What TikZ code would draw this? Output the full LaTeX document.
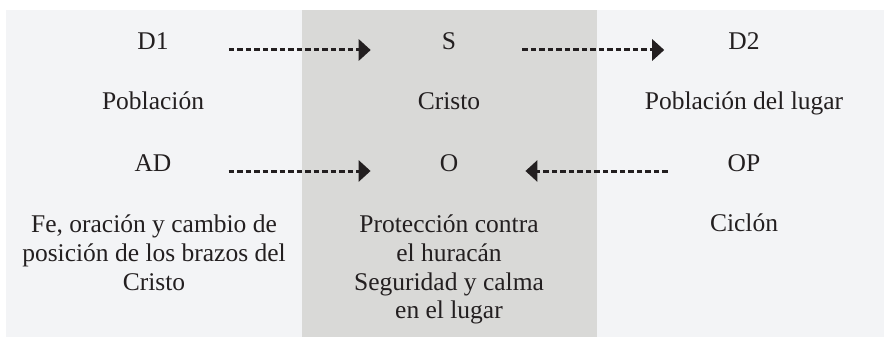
\documentclass[tikz,border=0pt]{standalone}
\usepackage{fontspec}
\setmainfont{Liberation Serif}
\usetikzlibrary{arrows.meta}
\definecolor{panel}{HTML}{F3F4F6}
\definecolor{midcol}{HTML}{D9D9D7}
\definecolor{ink}{HTML}{231F20}
\tikzset{
	lbl/.style={inner sep=0pt,anchor=base,text=ink,font=\fontsize{25.5}{28.6}\selectfont},
	txt/.style={inner sep=0pt,anchor=north,align=center,text=ink,font=\fontsize{25.5}{28.6}\selectfont},
	rel/.style 2 args={draw=ink,line width=3pt,dash pattern=on 5.5pt off 3pt,
		-{Triangle[length=12pt,width=21pt]},shorten <=#1,shorten >=#2}
}
\begin{document}
\begin{tikzpicture}[x=1pt,y=-1pt]
	\useasboundingbox (0,0) rectangle (884,337);
	\fill [panel] (6,10) rectangle (884,337);
	\fill [midcol] (302,10) rectangle (597,337);

	\node [lbl] (d1) at (153,50) {D1};
	\node [lbl] (s) at (449,50) {S};
	\node [lbl] (d2) at (744,50) {D2};

	\node [lbl] (pob) at (153,110) {Población};
	\node [lbl] (cristo) at (449,110) {Cristo};
	\node [lbl] (lugar) at (744,110) {Población del lugar};

	\node [lbl] (ad) at (153,171) {AD};
	\node [lbl] (o) at (449,171) {O};
	\node [lbl] (op) at (744,171) {OP};

	\node [txt] (fe) at (154,215) {Fe, oración y cambio de\\posición de los brazos del\\Cristo};
	\node [txt] (prot) at (449,215) {Protección contra\\el huracán\\Seguridad y calma\\en el lugar};
	\node [txt] (ciclon) at (744,214) {Ciclón};

	\draw [rel={60pt}{71pt}] (d1.base east) -- (s.base west);
	\draw [rel={66pt}{64pt}] (s.base east) -- (d2.base west);
	\draw [rel={57pt}{69pt}] (ad.base east) -- (o.base west);
	\draw [rel={60pt}{67pt}] (op.base west) -- (o.base east);
\end{tikzpicture}
\end{document}
